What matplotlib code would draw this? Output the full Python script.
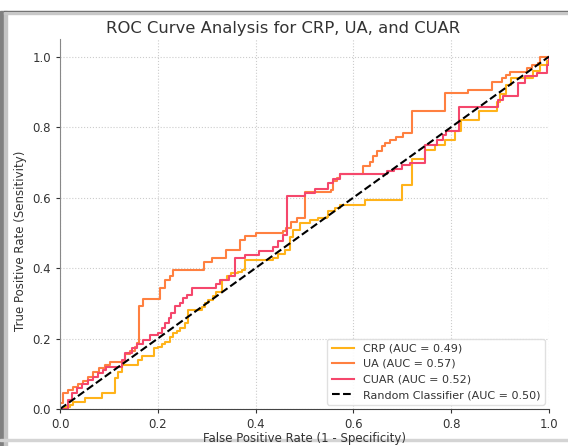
import matplotlib
matplotlib.use("Agg")
import matplotlib.pyplot as plt
from matplotlib.patches import Rectangle

# ROC points: (fpr where the curve jumps up, tpr level after the jump)
crp_fpr = [0, 0.010, 0.020, 0.027, 0.051, 0.085, 0.112, 0.119, 0.126, 0.160, 0.168,
           0.193, 0.201, 0.208, 0.215, 0.225, 0.232, 0.240, 0.245, 0.256, 0.262,
           0.290, 0.296, 0.303, 0.312, 0.320, 0.331, 0.341, 0.350, 0.365, 0.372,
           0.378, 0.436, 0.446, 0.460, 0.470, 0.477, 0.491, 0.511, 0.528, 0.545,
           0.549, 0.562, 0.573, 0.624, 0.699, 0.719, 0.746, 0.766, 0.787, 0.808,
           0.821, 0.857, 0.893, 0.900, 0.913, 0.923, 0.968, 0.982, 0.995, 1.0]
crp_tpr = [0, 0.005, 0.011, 0.020, 0.030, 0.045, 0.087, 0.106, 0.125, 0.139, 0.149,
           0.172, 0.177, 0.185, 0.191, 0.205, 0.215, 0.222, 0.229, 0.244, 0.281,
           0.290, 0.300, 0.310, 0.320, 0.333, 0.366, 0.378, 0.385, 0.390, 0.395,
           0.423, 0.428, 0.440, 0.452, 0.489, 0.509, 0.528, 0.537, 0.542, 0.546,
           0.561, 0.570, 0.580, 0.594, 0.636, 0.710, 0.735, 0.750, 0.764, 0.788,
           0.821, 0.845, 0.870, 0.895, 0.920, 0.939, 0.959, 0.975, 0.987, 1.0]

ua_fpr = [0, 0, 0.007, 0.017, 0.027, 0.037, 0.048, 0.058, 0.068, 0.080, 0.092,
          0.102, 0.133, 0.143, 0.153, 0.158, 0.162, 0.170, 0.204, 0.215, 0.225,
          0.232, 0.295, 0.310, 0.339, 0.368, 0.378, 0.400, 0.457, 0.463, 0.472,
          0.484, 0.501, 0.554, 0.559, 0.566, 0.573, 0.620, 0.634, 0.641, 0.648,
          0.658, 0.665, 0.675, 0.688, 0.701, 0.719, 0.787, 0.835, 0.883, 0.903,
          0.913, 0.920, 0.954, 0.965, 0.978, 0.982, 1.0]
ua_tpr = [0, 0.016, 0.045, 0.054, 0.062, 0.070, 0.080, 0.090, 0.106, 0.115, 0.125,
          0.134, 0.156, 0.166, 0.177, 0.187, 0.293, 0.311, 0.343, 0.366, 0.378,
          0.395, 0.418, 0.428, 0.450, 0.480, 0.491, 0.500, 0.504, 0.515, 0.532,
          0.542, 0.617, 0.622, 0.646, 0.655, 0.668, 0.690, 0.700, 0.717, 0.731,
          0.745, 0.755, 0.764, 0.772, 0.783, 0.845, 0.897, 0.905, 0.929, 0.940,
          0.947, 0.955, 0.968, 0.977, 0.981, 1.0, 1.0]

cuar_fpr = [0, 0.016, 0.024, 0.034, 0.046, 0.058, 0.068, 0.078, 0.087, 0.095, 0.126,
            0.133, 0.147, 0.158, 0.170, 0.184, 0.201, 0.209, 0.215, 0.222, 0.228,
            0.235, 0.245, 0.252, 0.259, 0.269, 0.320, 0.327, 0.345, 0.358, 0.378,
            0.407, 0.436, 0.446, 0.457, 0.465, 0.501, 0.521, 0.549, 0.559, 0.573,
            0.668, 0.683, 0.699, 0.716, 0.746, 0.770, 0.784, 0.790, 0.816, 0.896,
            0.906, 0.937, 0.951, 0.975, 0.995, 1.0]
cuar_tpr = [0, 0.026, 0.045, 0.059, 0.070, 0.082, 0.092, 0.101, 0.110, 0.120, 0.139,
            0.158, 0.172, 0.184, 0.196, 0.210, 0.215, 0.229, 0.243, 0.258, 0.272,
            0.291, 0.300, 0.314, 0.324, 0.343, 0.355, 0.366, 0.378, 0.428, 0.438,
            0.447, 0.461, 0.477, 0.495, 0.605, 0.612, 0.624, 0.641, 0.652, 0.668,
            0.675, 0.682, 0.693, 0.698, 0.750, 0.764, 0.778, 0.788, 0.857, 0.878,
            0.888, 0.925, 0.945, 0.953, 0.977, 1.0]

labels = ["CRP (AUC = 0.49)", "UA (AUC = 0.57)", "CUAR (AUC = 0.52)"]
colors = ["#FFB31A", "#FF8040", "#F5476C"]

fig = plt.figure(figsize=(5.68, 4.46), dpi=100)
ax = fig.add_axes([60 / 568, 1 - 409 / 446, 489 / 568, 370 / 446])

for fpr, tpr, lab, col in zip([crp_fpr, ua_fpr, cuar_fpr], [crp_tpr, ua_tpr, cuar_tpr],
                              labels, colors):
    ax.step(fpr, tpr, where="post", color=col, lw=1.5, label=lab)
ax.plot([0, 1], [0, 1], color="black", lw=1.5, ls="--", label="Random Classifier (AUC = 0.50)")

ax.set_xlim(0.0, 1.0)
ax.set_ylim(0.0, 1.05)
ax.grid(True, ls=":", color="#cccccc", lw=0.8)
for s in ["top", "right"]:
    ax.spines[s].set_visible(False)
ax.spines["left"].set_color("#888888")
ax.spines["bottom"].set_color("#444444")
ax.tick_params(labelsize=8.5, colors="#333333", length=3)
ax.set_xlabel("False Positive Rate (1 - Specificity)", fontsize=8.5, color="#333333", labelpad=1)
ax.set_ylabel("True Positive Rate (Sensitivity)", fontsize=8.5, color="#333333")
ax.yaxis.set_label_coords(-0.068, 0.454)
fig.text(283 / 568, 1 - 28 / 446, "ROC Curve Analysis for CRP, UA, and CUAR",
         ha="center", va="center", fontsize=11.8, color="#333333")
leg = ax.legend(loc="lower right", fontsize=8, framealpha=0.9, edgecolor="#dddddd",
                borderaxespad=0.4)
for t in leg.get_texts():
    t.set_color("#333333")

# screenshot frame shadow
fig.patches.append(Rectangle((0, 0), 4 / 568, 1 - 11 / 446, transform=fig.transFigure,
                             color="#808080", zorder=-1))
fig.patches.append(Rectangle((4 / 568, 0), 3 / 568, 1 - 11 / 446, transform=fig.transFigure,
                             color="#c4c4c4", zorder=-1))
fig.patches.append(Rectangle((4 / 568, 1 - 12 / 446), 1, 1.5 / 446, transform=fig.transFigure,
                             color="#606060", zorder=-1))
fig.patches.append(Rectangle((4 / 568, 1 - 14 / 446), 1, 2 / 446, transform=fig.transFigure,
                             color="#c8c8c8", zorder=-1))
fig.patches.append(Rectangle((0, 5 / 446), 1, 2 / 446, transform=fig.transFigure,
                             color="#d4d4d4", zorder=-1))

fig.savefig("out.png", dpi=100)
